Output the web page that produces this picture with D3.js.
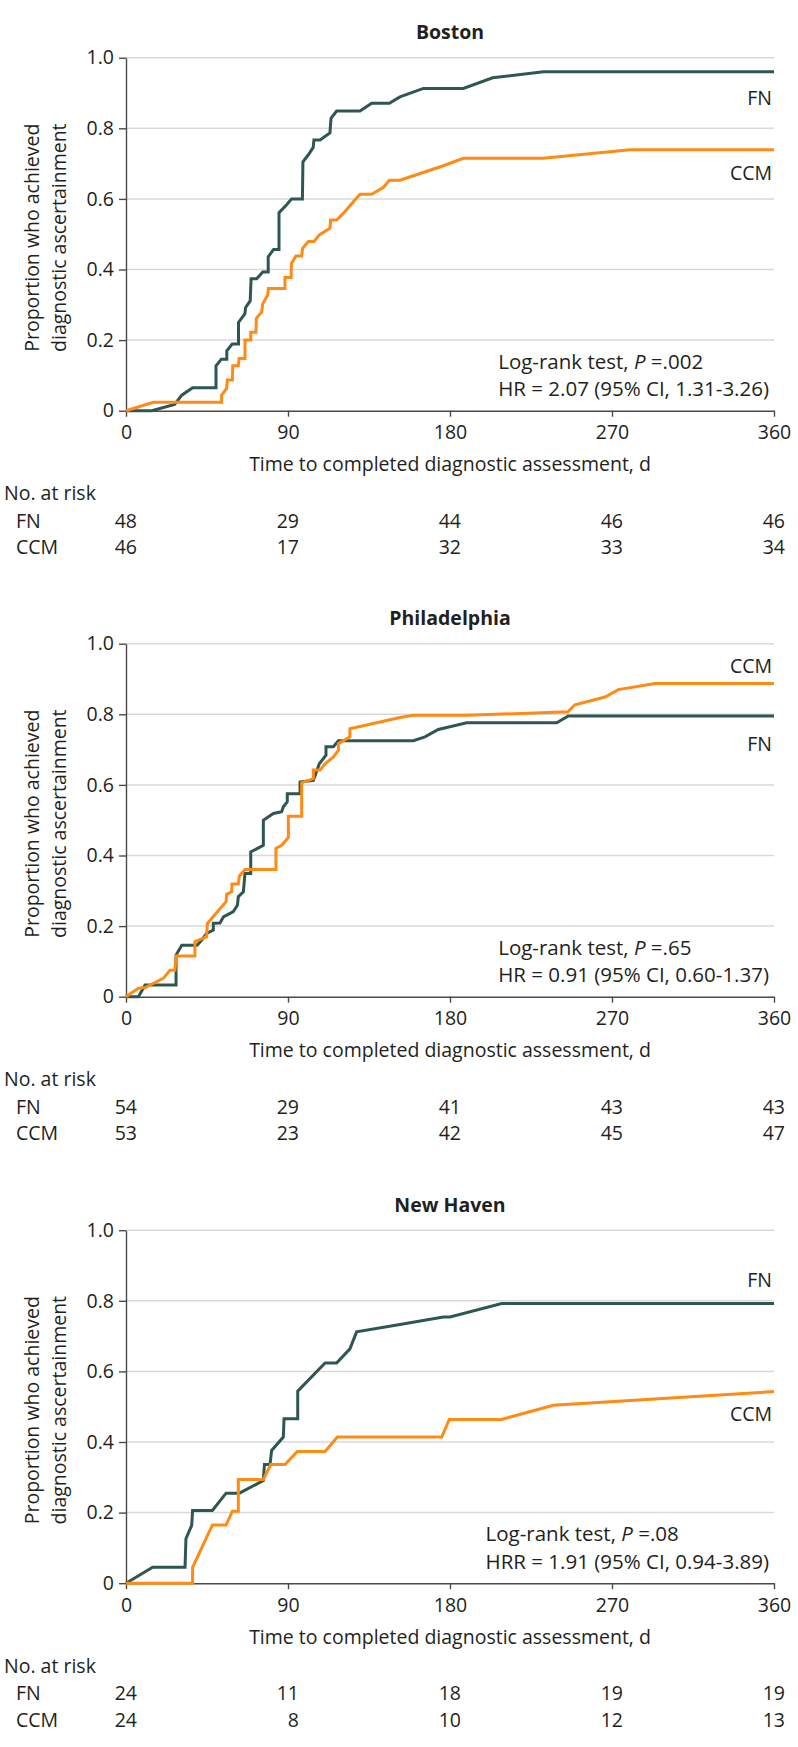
<!DOCTYPE html>
<html><head><meta charset="utf-8">
<script src="https://cdn.jsdelivr.net/npm/d3@7"></script>
<style>
html,body{margin:0;padding:0;background:#fff;}
svg text{font-family:"Open Sans",Lato,sans-serif;fill:#231f20;}
</style></head><body>
<svg id="chart" width="798" height="1747"></svg>
<script>
// ---------- data ----------
const sites = ["Boston", "Philadelphia", "New Haven"];
const groups = ["FN", "CCM"];
const xTicks = [0, 90, 180, 270, 360];
const yTicks = [0, 0.2, 0.4, 0.6, 0.8, 1.0];

const bostonFN = [[0,0],[14.3,0],[27,0.018],[31,0.044],[37,0.065],[50,0.065],[50,0.127],[53,0.146],[56,0.146],[56,0.17],[59,0.189],[62.5,0.189],[62.5,0.25],[66,0.274],[66.5,0.293],[69,0.311],[69.5,0.374],[72.6,0.374],[76,0.393],[79,0.393],[79,0.436],[82,0.457],[85,0.457],[85,0.561],[89,0.582],[92,0.6],[98,0.6],[98.3,0.705],[101.3,0.725],[104,0.746],[104.4,0.767],[107.8,0.767],[113.3,0.787],[113.9,0.828],[117,0.849],[130,0.849],[136.5,0.871],[146.3,0.871],[152.2,0.889],[165.2,0.913],[187.4,0.913],[203.7,0.943],[231.9,0.96],[360,0.96]];
const bostonCCM = [[0,0],[15.2,0.024],[53.1,0.024],[53.1,0.044],[55.9,0.063],[56.3,0.087],[59.1,0.087],[59.3,0.127],[62.4,0.127],[62.8,0.148],[66.1,0.148],[66.1,0.2],[69.3,0.2],[69.3,0.222],[72.2,0.222],[72.4,0.262],[75.4,0.28],[75.9,0.302],[78.7,0.328],[79.1,0.346],[88.3,0.346],[88.3,0.377],[91.7,0.377],[91.9,0.417],[94.4,0.438],[97.6,0.438],[98.1,0.46],[101.3,0.479],[104.4,0.479],[107.4,0.498],[113.3,0.517],[113.7,0.54],[117,0.54],[120.7,0.559],[126.3,0.592],[130,0.613],[136.5,0.613],[143,0.633],[146.3,0.653],[152.2,0.653],[176.3,0.694],[187.4,0.715],[231.9,0.715],[280,0.739],[360,0.739]];
const philaFN = [[0,0],[6.9,0],[10.6,0.033],[27.8,0.033],[27.8,0.118],[31,0.146],[39.5,0.146],[42,0.16],[44.8,0.179],[48.5,0.189],[48.5,0.208],[52.2,0.209],[54.1,0.226],[57.8,0.236],[59.6,0.241],[61.9,0.259],[62.4,0.283],[65.2,0.297],[66.1,0.349],[69.3,0.349],[69.3,0.41],[76.3,0.429],[76.3,0.5],[81.9,0.519],[86.5,0.524],[87.4,0.538],[89.6,0.552],[89.6,0.575],[96.7,0.575],[96.7,0.608],[104.1,0.613],[107.4,0.66],[111.1,0.684],[111.1,0.708],[115.2,0.708],[118,0.725],[159.6,0.725],[166.1,0.736],[173.5,0.757],[189.3,0.776],[239.3,0.776],[245.7,0.795],[360,0.795]];
const philaCCM = [[0,0],[6.9,0.024],[10.6,0.026],[20.7,0.052],[24.4,0.075],[27.2,0.075],[27.8,0.115],[38.3,0.115],[38.3,0.156],[44.8,0.17],[45.2,0.208],[55.6,0.269],[55.9,0.29],[58.7,0.297],[58.9,0.319],[62.4,0.319],[63,0.342],[66.1,0.36],[83.3,0.36],[83.3,0.42],[86.5,0.429],[90.2,0.451],[90.2,0.511],[97.6,0.511],[97.6,0.606],[104.1,0.618],[104.1,0.642],[107.8,0.642],[110.6,0.66],[115.2,0.679],[118,0.698],[118,0.717],[124.4,0.736],[124.4,0.759],[137.4,0.774],[152.2,0.791],[159.6,0.797],[189.3,0.797],[245.5,0.807],[249.4,0.827],[266.1,0.849],[273.5,0.87],[293.9,0.887],[360,0.887]];
const newHavenFN = [[0,0],[14.8,0.045],[32.8,0.045],[33.3,0.126],[36.5,0.164],[37,0.206],[48,0.206],[55.6,0.255],[63,0.255],[76.3,0.291],[76.9,0.336],[80,0.336],[80.9,0.376],[87.4,0.414],[87.8,0.466],[95.4,0.466],[95.4,0.544],[110.6,0.624],[117,0.624],[124.4,0.664],[128.1,0.712],[152.2,0.733],[176.3,0.754],[180,0.754],[208.7,0.792],[360,0.792]];
const newHavenCCM = [[0,0],[37,0],[37,0.045],[48,0.165],[55.6,0.165],[59.1,0.204],[62.4,0.204],[62.4,0.294],[76.3,0.294],[80.4,0.336],[88.3,0.336],[95.2,0.373],[110.6,0.373],[117.4,0.414],[175.4,0.414],[179.6,0.464],[208.7,0.464],[237.4,0.504],[360,0.543]];

const riskBostonFN = [48, 29, 44, 46, 46];
const riskBostonCCM = [46, 17, 32, 33, 34];
const riskPhilaFN = [54, 29, 41, 43, 43];
const riskPhilaCCM = [53, 23, 42, 45, 47];
const riskNewHavenFN = [24, 11, 18, 19, 19];
const riskNewHavenCCM = [24, 8, 10, 12, 13];

const statP = [".002", ".65", ".08"];
const statHRLabel = ["HR", "HR", "HRR"];
const statHR = ["2.07 (95% CI, 1.31-3.26)", "0.91 (95% CI, 0.60-1.37)", "1.91 (95% CI, 0.94-3.89)"];

// ---------- layout ----------
const panelTop = [0, 586, 1172.5];
const labelPos = [ {FN: 0.866, CCM: 0.653}, {FN: 0.697, CCM: 0.918}, {FN: 0.84, CCM: 0.46} ];
const panels = [
  {fn: bostonFN, ccm: bostonCCM, rFN: riskBostonFN, rCCM: riskBostonCCM},
  {fn: philaFN, ccm: philaCCM, rFN: riskPhilaFN, rCCM: riskPhilaCCM},
  {fn: newHavenFN, ccm: newHavenCCM, rFN: riskNewHavenFN, rCCM: riskNewHavenCCM}
];
const colors = {FN: "#2e5653", CCM: "#ff8a14"};
const FS = 19.5;
const FS_STAT = 20.5;
const svg = d3.select("#chart");
const x = d3.scaleLinear().domain([0, 360]).range([126, 774]);
const y = d3.scaleLinear().domain([0, 1]).range([410.7, 57.7]);
const line = d3.line().x(d => x(d[0])).y(d => y(d[1]));

panels.forEach((pd, i) => {
  const g = svg.append("g").attr("transform", `translate(0,${panelTop[i]})`);
  // title
  g.append("text").attr("x", (x(0)+x(360))/2).attr("y", 39).attr("text-anchor","middle")
    .style("font-weight","bold").style("font-size","19.5px").text(sites[i]);
  // grid
  g.selectAll(".grid").data(yTicks.filter(v => v > 0)).join("line")
    .attr("x1", x(0)).attr("x2", x(360)).attr("y1", d => y(d)).attr("y2", d => y(d))
    .attr("stroke", "#d9d9d9").attr("stroke-width", 1.5);
  // axes
  const ya = g.append("g").attr("transform", `translate(${x(0)},0)`)
    .call(d3.axisLeft(y).tickValues(yTicks).tickSize(7).tickSizeOuter(0).tickPadding(5)
      .tickFormat(d => d === 0 ? "0" : d3.format(".1f")(d)));
  const xa = g.append("g").attr("transform", `translate(0,${y(0)})`)
    .call(d3.axisBottom(x).tickValues(xTicks).tickSize(6).tickSizeOuter(0).tickFormat(d3.format("d")));
  [ya, xa].forEach(a => {
    a.attr("font-family", null).attr("font-size", null);
    a.select(".domain").attr("stroke", "#4a4a4a").attr("stroke-width", 1.4);
    a.selectAll(".tick line").attr("stroke", "#4a4a4a").attr("stroke-width", 1.4);
    a.selectAll("text").style("font-size", FS + "px").attr("fill", "#231f20");
  });
  xa.selectAll("text").attr("y", 28.8).attr("dy", 0);
  // y-axis title
  const yt = g.append("text").attr("transform", `translate(0,237.7) rotate(-90)`)
    .attr("text-anchor", "middle").style("font-size", FS + "px");
  yt.append("tspan").attr("x", 0).attr("y", 39).text("Proportion who achieved");
  yt.append("tspan").attr("x", 0).attr("y", 66).text("diagnostic ascertainment");
  // curves
  groups.forEach(k => {
    g.append("path").datum(k === "FN" ? pd.fn : pd.ccm).attr("d", line)
      .attr("fill", "none").attr("stroke", colors[k]).attr("stroke-width", 3)
      .attr("stroke-linejoin", "miter");
  });
  // curve labels
  groups.forEach(k => {
    g.append("text").attr("x", 772).attr("y", y(labelPos[i][k])).attr("text-anchor", "end")
      .style("font-size", FS + "px").text(k);
  });
  // stats
  const st = g.append("g");
  const l1 = st.append("text").attr("y", 368.5).style("font-size", FS_STAT + "px");
  l1.append("tspan").text("Log-rank test, ");
  l1.append("tspan").style("font-style", "italic").text("P");
  l1.append("tspan").text(" =" + statP[i]);
  const l2 = st.append("text").attr("y", 396).style("font-size", FS_STAT + "px")
    .text(statHRLabel[i] + " = " + statHR[i]);
  const w2 = l2.node().getComputedTextLength();
  const left = 769 - w2;
  l1.attr("x", left); l2.attr("x", left);
  // x axis title
  g.append("text").attr("x", (x(0)+x(360))/2).attr("y", 471).attr("text-anchor", "middle")
    .style("font-size", FS + "px").text("Time to completed diagnostic assessment, d");
  // risk table
  g.append("text").attr("x", 4).attr("y", 500).style("font-size", FS + "px").text("No. at risk");
  groups.forEach((k, j) => {
    const yy = 527.7 + j * 26.3;
    g.append("text").attr("x", 16).attr("y", yy).style("font-size", FS + "px").text(k);
    g.selectAll(".risk" + k).data(k === "FN" ? pd.rFN : pd.rCCM).join("text")
      .attr("x", (d, m) => x(xTicks[m]) + 11).attr("y", yy).attr("text-anchor", "end")
      .style("font-size", FS + "px").text(d => d);
  });
});
</script>
</body></html>
